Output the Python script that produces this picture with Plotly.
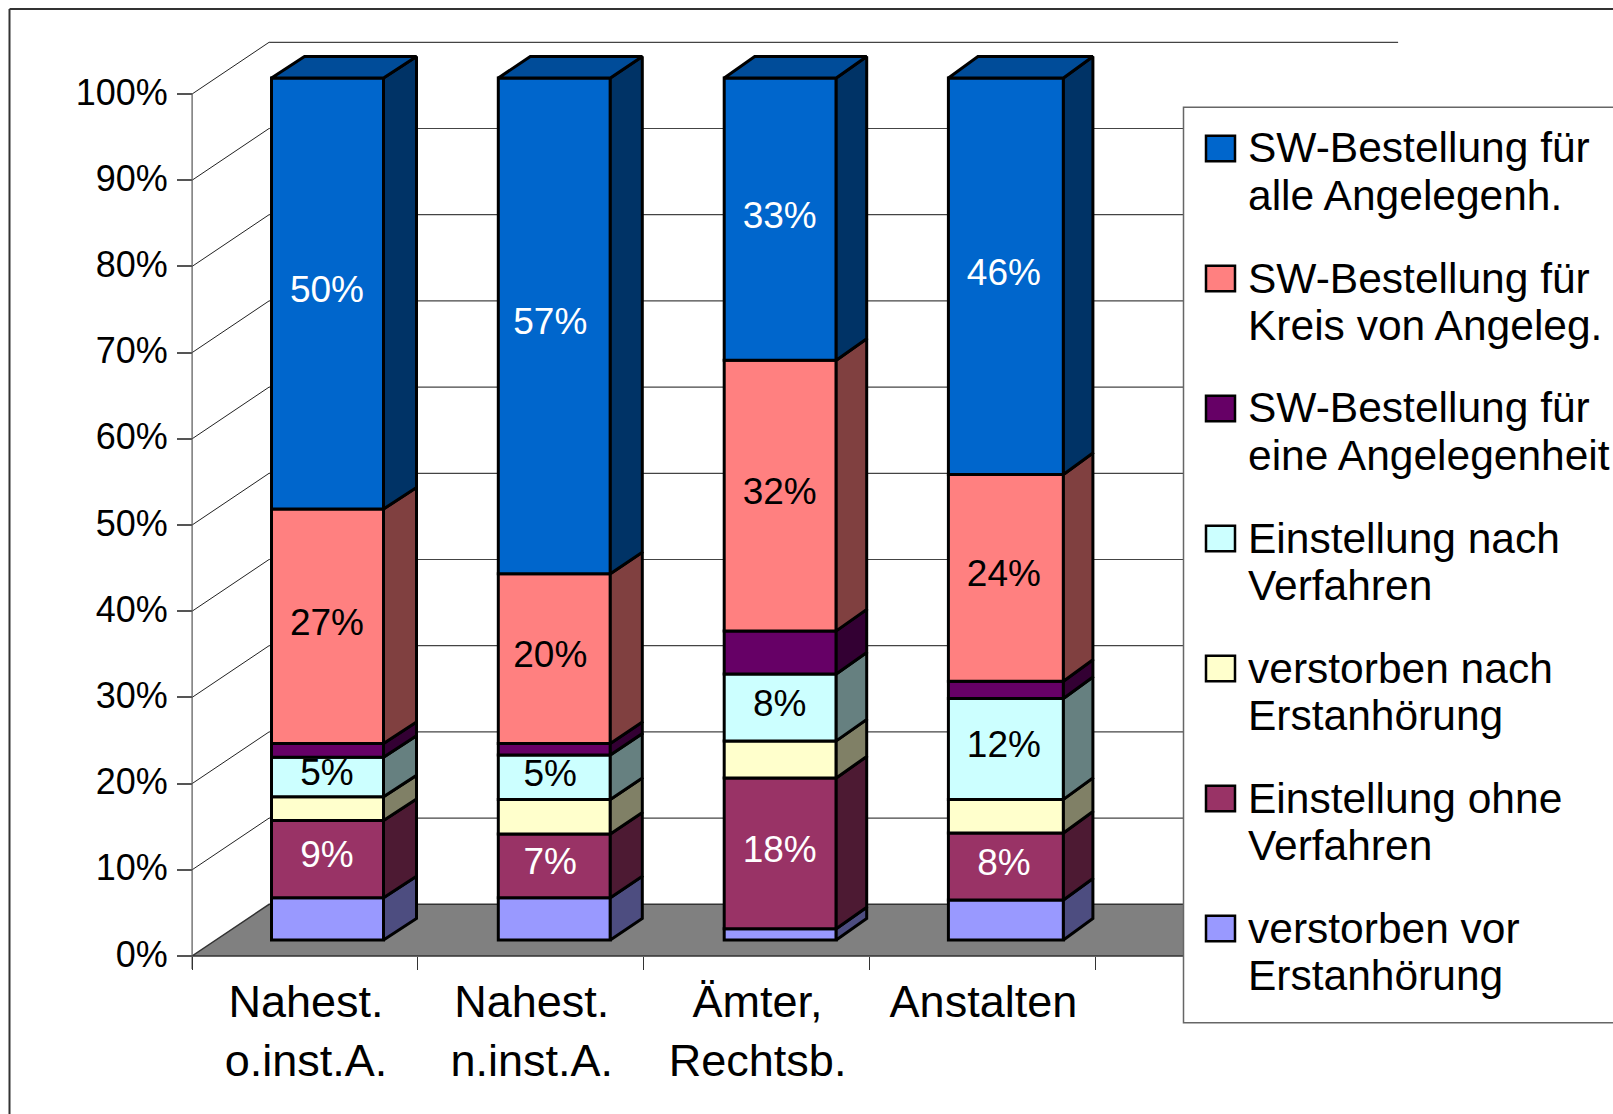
import plotly.graph_objects as go

W, H = 1613, 1114
FONT = "Liberation Sans"

# ---------- data ----------
categories = ["Nahest.<br>o.inst.A.", "Nahest.<br>n.inst.A.", "Ämter,<br>Rechtsb.", "Anstalten"]
verstorben_vor = [4.9, 4.9, 1.3, 4.65]
einstellung_ohne = [8.97, 7.39, 17.5, 7.76]
verstorben_nach = [2.74, 4.02, 4.3, 3.9]
einstellung_nach = [4.6, 5.14, 7.76, 11.7]
sw_eine = [1.59, 1.35, 5.0, 2.0]
sw_kreis = [27.2, 19.7, 31.4, 24.0]
sw_alle = [50.0, 57.5, 32.74, 45.99]

labels_vor = ["", "", "", ""]
labels_ohne = ["9%", "7%", "18%", "8%"]
labels_nach = ["", "", "", ""]
labels_einst = ["5%", "5%", "8%", "12%"]
labels_eine = ["", "", "", ""]
labels_kreis = ["27%", "20%", "32%", "24%"]
labels_alle = ["50%", "57%", "33%", "46%"]

y_ticks = [0, 10, 20, 30, 40, 50, 60, 70, 80, 90, 100]
n_slots = 5  # the chart has one empty slot, hidden by the legend

series = [
    ("verstorben vor<br>Erstanhörung", verstorben_vor, labels_vor, "#9999FF", "#4D4D80", "black"),
    ("Einstellung ohne<br>Verfahren", einstellung_ohne, labels_ohne, "#993366", "#4D1A33", "white"),
    ("verstorben nach<br>Erstanhörung", verstorben_nach, labels_nach, "#FFFFCC", "#808066", "black"),
    ("Einstellung nach<br>Verfahren", einstellung_nach, labels_einst, "#CCFFFF", "#668080", "black"),
    ("SW-Bestellung für<br>eine Angelegenheit", sw_eine, labels_eine, "#660066", "#330033", "white"),
    ("SW-Bestellung für<br>Kreis von Angeleg.", sw_kreis, labels_kreis, "#FF8080", "#804040", "black"),
    ("SW-Bestellung für<br>alle Angelegenh.", sw_alle, labels_alle, "#0066CC", "#003366", "white"),
]
top_color = "#004C99"

# ---------- scales: one axis pair spans the page ----------
PX_X, PX_Y = 225.8, 8.62      # pixels per category, pixels per percent
X0_PX, Y0_PX = 305.0, 956.0   # page position of category 0 / 0 %
xrange_ = [-X0_PX / PX_X, (W - X0_PX) / PX_X]
yrange_ = [-(H - Y0_PX) / PX_Y, Y0_PX / PX_Y]

WALL_DX, WALL_DY = 77 / PX_X, 6.0      # depth of the chart box
BAR_SHIFT_Y = 16 / PX_Y                # bars stand inside the box
bar_center_shift = [22.5 / PX_X, 23.5 / PX_X, 23.6 / PX_X, 23.5 / PX_X]
bar_widths = [112 / PX_X, 112 / PX_X, 112 / PX_X, 115 / PX_X]
bar_depths = [33 / PX_X, 32 / PX_X, 30.5 / PX_X, 29.5 / PX_X]
label_shift = [-0.5 / PX_X, -4 / PX_X, -0.5 / PX_X, -2 / PX_X]
BAR_DY = 21.5 / PX_Y
left, right = -0.5, n_slots - 0.5

px = lambda v: v / W
py = lambda v: 1 - v / H

fig = go.Figure()
bases = [BAR_SHIFT_Y] * len(categories)
xs = [i + bar_center_shift[i] for i in range(len(categories))]
text_x, text_y, text_s, text_c = [], [], [], []
OUTLINE = dict(color="black", width=3)

for name, vals, labs, col, side, tcol in series:
    fig.add_trace(go.Bar(
        x=xs, y=vals, base=list(bases), width=bar_widths, name=name.replace("<br>", " "),
        marker=dict(color=col, line=OUTLINE), showlegend=False, hoverinfo="skip"))
    fx, fy = [], []
    for i, v in enumerate(vals):
        b = bases[i]
        xr = xs[i] + bar_widths[i] / 2
        fx += [xr, xr + bar_depths[i], xr + bar_depths[i], xr, xr, None]
        fy += [b, b + BAR_DY, b + v + BAR_DY, b + v, b, None]
        if labs[i]:
            text_x.append(xs[i] + label_shift[i])
            text_y.append(b + v / 2 + 0.1)
            text_s.append(labs[i])
            text_c.append(tcol)
        bases[i] = b + v
    fig.add_trace(go.Scatter(
        x=fx, y=fy, mode="lines", fill="toself", fillcolor=side,
        line=OUTLINE, showlegend=False, hoverinfo="skip"))

tx, ty = [], []
for i, t in enumerate(bases):
    xl, xr = xs[i] - bar_widths[i] / 2, xs[i] + bar_widths[i] / 2
    tx += [xl, xl + bar_depths[i], xr + bar_depths[i], xr, xl, None]
    ty += [t, t + BAR_DY, t + BAR_DY, t, t, None]
fig.add_trace(go.Scatter(
    x=tx, y=ty, mode="lines", fill="toself", fillcolor=top_color,
    line=OUTLINE, showlegend=False, hoverinfo="skip"))

fig.add_trace(go.Scatter(
    x=text_x, y=text_y, text=text_s, mode="text", textposition="middle center",
    textfont=dict(family=FONT, size=37, color=text_c), showlegend=False, hoverinfo="skip"))

# ---------- chart box ----------
shapes = []
GRID = dict(color="#444444", width=1.2)
for t in y_ticks[1:]:
    shapes.append(dict(type="line", xref="x", yref="y", layer="below",
                       x0=left, y0=t, x1=left + WALL_DX, y1=t + WALL_DY, line=dict(color="#222222", width=1)))
    shapes.append(dict(type="line", xref="x", yref="y", layer="below",
                       x0=left + WALL_DX, y0=t + WALL_DY, x1=right + WALL_DX, y1=t + WALL_DY, line=GRID))
shapes.append(dict(type="path", xref="x", yref="y", layer="below",
                   path=f"M{left},0 L{right},0 L{right + WALL_DX},{WALL_DY} L{left + WALL_DX},{WALL_DY} Z",
                   fillcolor="#808080", line=dict(color="#333333", width=1.5)))
shapes.append(dict(type="line", xref="x", yref="y", layer="below",
                   x0=left, y0=-13 / PX_Y, x1=left, y1=100, line=dict(color="#555555", width=1.2)))

# ---------- outer frame ----------
FRAME = dict(color="#333333", width=2)
shapes.append(dict(type="line", xref="paper", yref="paper", x0=px(9.5), y0=py(9), x1=px(9.5), y1=py(H + 5), line=FRAME))
shapes.append(dict(type="line", xref="paper", yref="paper", x0=px(9.5), y0=py(9), x1=px(W + 5), y1=py(9), line=FRAME))

# ---------- legend box ----------
LEG_L, LEG_T, LEG_B = 1183.5, 107.3, 1022.7
shapes.append(dict(type="rect", xref="paper", yref="paper", layer="above",
                   x0=px(LEG_L), y0=py(LEG_T), x1=px(W + 10), y1=py(LEG_B),
                   fillcolor="white", line=dict(color="#666666", width=1.5)))
PITCH, SW_TOP, SW_W, SW_H, LINE_H = 130.0, 135.7, 29, 25.6, 47
annotations = []
for k, (name, vals, labs, col, side, tcol) in enumerate(reversed(series)):
    top = SW_TOP + k * PITCH
    shapes.append(dict(type="rect", xref="paper", yref="paper", layer="above",
                       x0=px(1206), y0=py(top), x1=px(1206 + SW_W), y1=py(top + SW_H),
                       fillcolor=col, line=dict(color="black", width=2.5)))
    for j, line in enumerate(name.split("<br>")):
        annotations.append(dict(
            xref="paper", yref="paper", x=px(1246), y=py(top + SW_H / 2 + j * LINE_H - 0.5),
            text=line, showarrow=False, xanchor="left", yanchor="middle",
            font=dict(family=FONT, size=42.5, color="black")))

fig.update_layout(
    width=W, height=H, margin=dict(l=0, r=0, t=0, b=0, pad=0, autoexpand=False),
    paper_bgcolor="white", plot_bgcolor="white", barmode="overlay",
    showlegend=False, shapes=shapes, annotations=annotations,
    font=dict(family=FONT, color="black"),
    xaxis=dict(type="linear", range=xrange_, domain=[0, 1], anchor="free", position=py(Y0_PX),
               showgrid=False, zeroline=False, showline=False,
               tickmode="array", tickvals=list(range(len(categories))), ticktext=categories,
               ticks="", ticklabelstandoff=15, ticklabelshift=1,
               tickfont=dict(family=FONT, size=45, color="black"),
               minor=dict(tickmode="array", tickvals=[left + i for i in range(n_slots + 1)],
                          ticks="outside", ticklen=13, tickwidth=1.2, tickcolor="#333333", showgrid=False)),
    yaxis=dict(type="linear", range=yrange_, domain=[0, 1], anchor="free", position=px(192),
               showgrid=False, zeroline=False, showline=False,
               tickmode="array", tickvals=y_ticks, ticktext=[f"{t}%" for t in y_ticks],
               ticks="outside", ticklen=15, tickwidth=1.5, tickcolor="#555555",
               ticklabelstandoff=2, ticklabelshift=-2, tickfont=dict(family=FONT, size=36, color="black")),
)

fig.write_html("out.html", config=dict(displayModeBar=False),
               post_script="document.body.style.margin='0';document.body.style.overflow='hidden';")
